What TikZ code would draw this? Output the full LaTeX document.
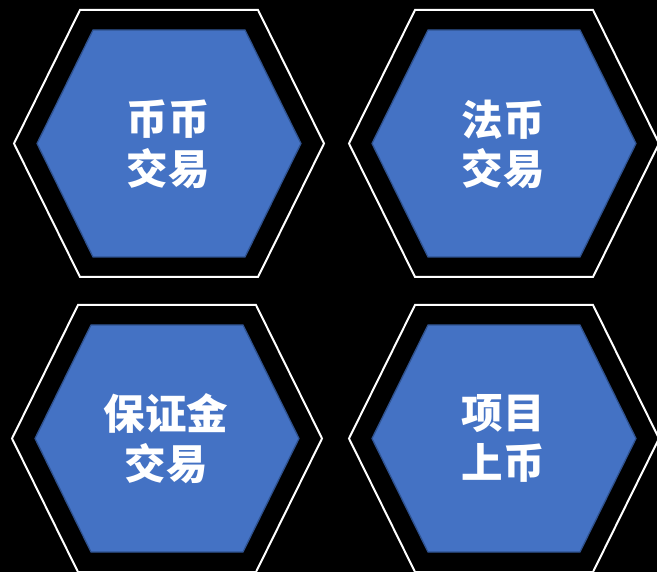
\documentclass[tikz,border=0pt]{standalone}
\usepackage{fontspec}
\newfontfamily\cjk{Noto Sans CJK SC}
\definecolor{hexblue}{HTML}{4472C4}
\definecolor{hexedge}{HTML}{2F528F}
\tikzset{
  outerhex/.style={draw=white, line width=2pt, fill=black, line join=miter},
  innerhex/.style={draw=hexedge, line width=1.3pt, fill=hexblue},
  hexlabel/.style={text=white, align=center, font=\cjk\bfseries\fontsize{41.5}{49.5}\selectfont, inner sep=0pt}
}
\newcommand\hexpair{%
  \draw[outerhex] (-155,0) -- (-89,-133.5) -- (89,-133.5) -- (155,0) -- (89,133.5) -- (-89,133.5) -- cycle;
  \draw[innerhex] (-132,0) -- (-76,-113.5) -- (76,-113.5) -- (132,0) -- (76,113.5) -- (-76,113.5) -- cycle;
}
\begin{document}
\begin{tikzpicture}[x=1pt,y=-1pt]
\useasboundingbox (0,0) rectangle (657,572);
\fill[black] (0,0) rectangle (657,572);
\begin{scope}[shift={(169,143.5)}]\hexpair\end{scope}
\begin{scope}[shift={(504,143.5)}]\hexpair\end{scope}
\begin{scope}[shift={(167,438.5)}]\hexpair\end{scope}
\begin{scope}[shift={(504,438.5)}]\hexpair\end{scope}
\node[hexlabel] (t1) at (168,144.5) {币币\\交易};
\node[hexlabel] (t2) at (503,144.5) {法币\\交易};
\node[hexlabel] (t3) at (166,438.5) {保证金\\交易};
\node[hexlabel] (t4) at (503,438.5) {项目\\上币};
\end{tikzpicture}
\end{document}
